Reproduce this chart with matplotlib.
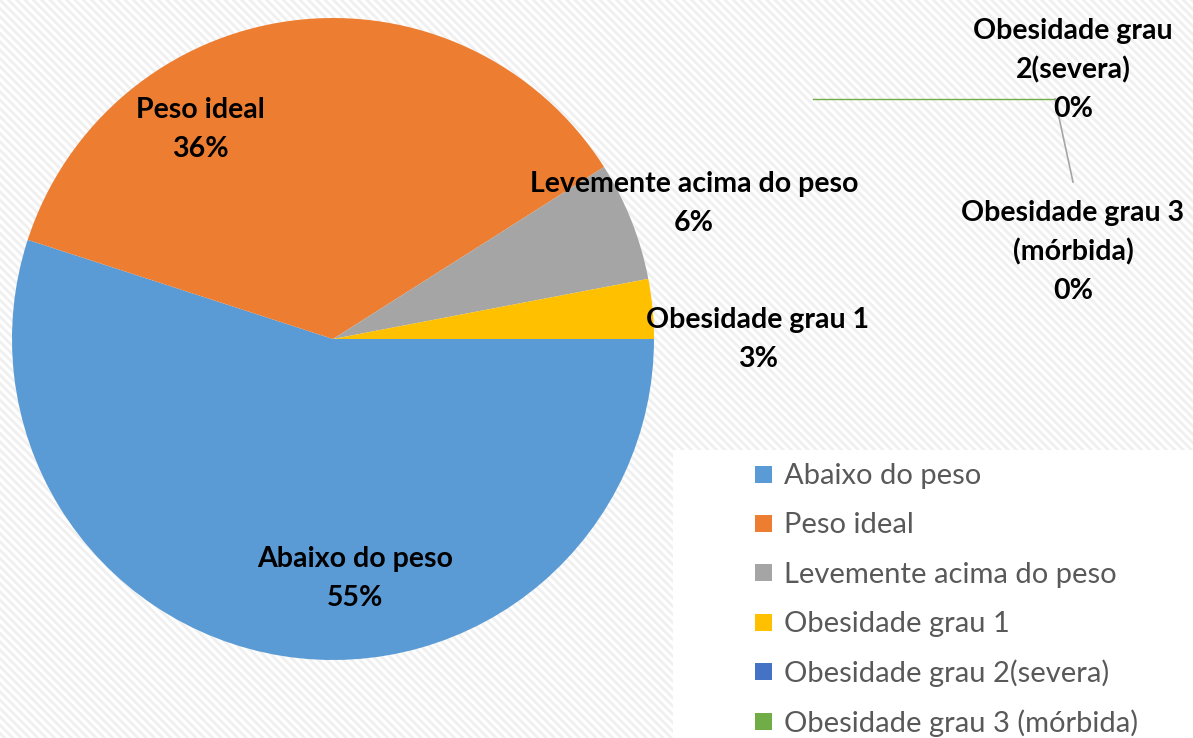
import matplotlib
matplotlib.use('Agg')
import matplotlib.pyplot as plt
from matplotlib.patches import Rectangle

categories = ['Abaixo do peso', 'Peso ideal', 'Levemente acima do peso',
              'Obesidade grau 1', 'Obesidade grau 2(severa)', 'Obesidade grau 3 (mórbida)']
values = [55, 36, 6, 3, 0, 0]
colors = ['#5b9bd5', '#ed7d31', '#a5a5a5', '#ffc000', '#4472c4', '#70ad47']

# label text shown on chart (wrapped like in the original)
label_texts = ['Abaixo do peso', 'Peso ideal', 'Levemente acima do peso',
               'Obesidade grau 1', 'Obesidade grau\n2(severa)', 'Obesidade grau 3\n(mórbida)']
# label centers in pixels (x, y of first line)
label_pos = [(355, 556), (200, 107), (694, 181), (758, 317), (1073, 28), (1073, 210)]

W, H = 1193, 738
plt.rcParams['font.family'] = ['Lato', 'DejaVu Sans']
plt.rcParams['hatch.linewidth'] = 2.0

fig = plt.figure(figsize=(W / 100, H / 100), dpi=100)
fig.patch.set_facecolor('white')
bg = Rectangle((0, 0), 1, 1, transform=fig.transFigure, facecolor='white',
               edgecolor='#f0f0f0', hatch='\\\\\\\\', lw=0, zorder=-10)
fig.patches.append(bg)

# pie axes: center (333, 339), radius 321 pixels
cx, cy, r = 333, 339, 321
ax = fig.add_axes([(cx - r) / W, (H - cy - r) / H, 2 * r / W, 2 * r / H])
ax.pie(values, colors=colors, startangle=0, counterclock=False, radius=1,
       wedgeprops=dict(linewidth=0))
ax.set_xlim(-1, 1)
ax.set_ylim(-1, 1)
ax.axis('off')

# overlay in pixel coords
ov = fig.add_axes([0, 0, 1, 1])
ov.set_xlim(0, W)
ov.set_ylim(H, 0)
ov.axis('off')
ov.patch.set_alpha(0)

# legend background
ov.add_patch(Rectangle((673, 450), W - 673, H - 450, facecolor='white', edgecolor='none', zorder=1))

# leader lines for zero slices
ov.plot([813, 1055], [99, 99], color='#70ad47', lw=1, zorder=2)
ov.plot([1055, 1073], [99, 182], color='#a5a5a5', lw=1.2, zorder=2)

total = sum(values)
for txt, (x, y), v in zip(label_texts, label_pos, values):
    pct = '%d%%' % round(100 * v / total)
    lines = txt.split('\n') + [pct]
    for k, line in enumerate(lines):
        ov.text(x, y + 3 + 38.8 * k, line, ha='center', va='center', fontsize=20.5,
                fontweight='bold', color='black', zorder=3)

# legend
for i, (cat, col) in enumerate(zip(categories, colors)):
    y = 474 + 49.4 * i
    ov.add_patch(Rectangle((755, y - 8.5), 17, 17, facecolor=col, edgecolor='none', zorder=3))
    ov.text(784, y + 2, cat, ha='left', va='center', fontsize=21, color='#595959', zorder=3)

fig.savefig('out.png', dpi=100)
plt.close(fig)
